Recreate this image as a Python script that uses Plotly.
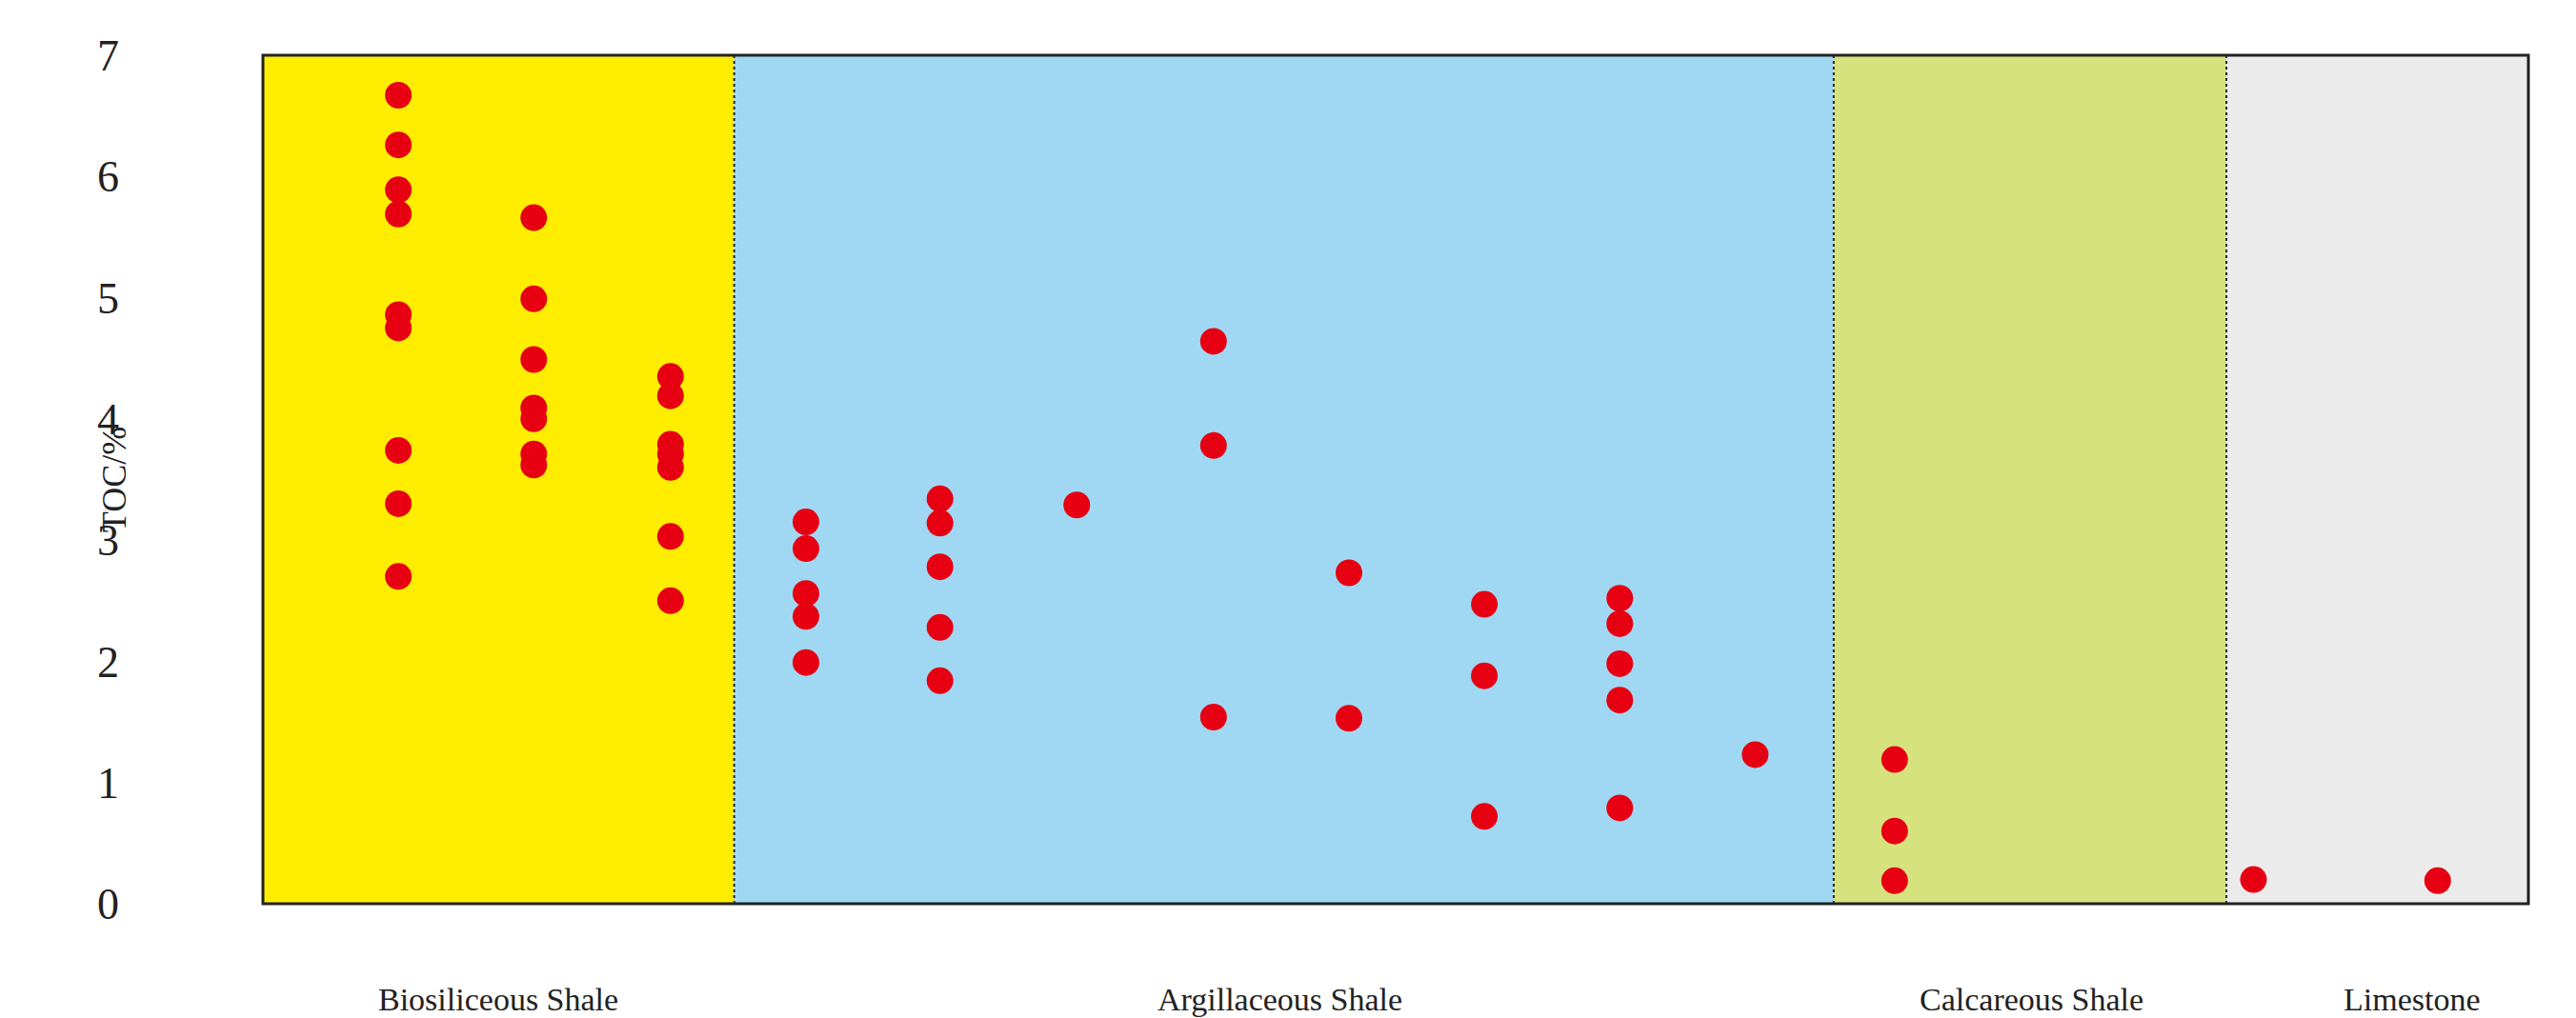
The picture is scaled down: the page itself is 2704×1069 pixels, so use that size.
import plotly.graph_objects as go

col_x = [1.0, 2.0, 3.01, 4.01, 5.0, 6.01, 7.02, 8.02, 9.02, 10.02, 11.02, 12.05, 14.7, 16.06]
col_toc = [
    [6.67, 6.26, 5.89, 5.69, 4.86, 4.75, 3.74, 3.30, 2.70],
    [5.66, 4.99, 4.49, 4.09, 4.00, 3.71, 3.62],
    [4.35, 4.19, 3.79, 3.71, 3.60, 3.03, 2.50],
    [3.15, 2.93, 2.56, 2.37, 1.99],
    [3.34, 3.14, 2.78, 2.28, 1.84],
    [3.29],
    [4.64, 3.78, 1.54],
    [2.73, 1.53],
    [2.47, 1.88, 0.72],
    [2.52, 2.31, 1.98, 1.68, 0.79],
    [1.23],
    [1.19, 0.60, 0.19],
    [0.20],
    [0.19],
]
lith_names = ["Biosiliceous Shale", "Argillaceous Shale", "Calcareous Shale", "Limestone"]
lith_bounds = [0, 3.48, 11.6, 14.5, 16.73]
lith_colors = ["#FFED00", "#A0D8F4", "#D6E27E", "#EBEBEB"]
label_x = [1.74, 7.51, 13.06, 15.87]
y_ticks = [0, 1, 2, 3, 4, 5, 6, 7]

xs, ys = [], []
for x, vals in zip(col_x, col_toc):
    xs += [x] * len(vals)
    ys += vals

font = "Liberation Serif, Times New Roman, serif"
fig = go.Figure()
shapes = []
for i, c in enumerate(lith_colors):
    shapes.append(dict(type="rect", xref="x", yref="paper", x0=lith_bounds[i], x1=lith_bounds[i+1],
                       y0=0, y1=1, fillcolor=c, line_width=0, layer="below"))
for b in lith_bounds[1:-1]:
    shapes.append(dict(type="line", xref="x", yref="paper", x0=b, x1=b, y0=0, y1=1,
                       line=dict(color="#222", width=2, dash="dot")))
shapes.append(dict(type="rect", xref="paper", yref="paper", x0=0, x1=1, y0=0, y1=1,
                   line=dict(color="#222", width=3)))

fig.add_trace(go.Scatter(x=xs, y=ys, mode="markers",
                         marker=dict(color="#E60012", size=28, line_width=0), showlegend=False))

annotations = [dict(x=lx, y=-0.09, xref="x", yref="paper", text=n, showarrow=False,
                    yanchor="top", font=dict(family=font, size=34, color="#222"))
               for lx, n in zip(label_x, lith_names)]
annotations.append(dict(x=-0.075, y=0.5, xref="paper", yref="paper", text="TOC/%", textangle=-90,
                        showarrow=False, font=dict(family=font, size=36, color="#222")))

fig.update_layout(
    width=2704, height=1069, margin=dict(l=268, r=58, t=50, b=128),
    paper_bgcolor="white", plot_bgcolor="white",
    shapes=shapes, annotations=annotations,
    xaxis=dict(range=[0, 16.73], showticklabels=False, showgrid=False, zeroline=False, ticks=""),
    yaxis=dict(range=[0, 7], tickvals=y_ticks, showgrid=False, zeroline=False, ticks="",
               ticklabelstandoff=150, tickfont=dict(family=font, size=46, color="#222")),
)
fig.write_html("out.html")
